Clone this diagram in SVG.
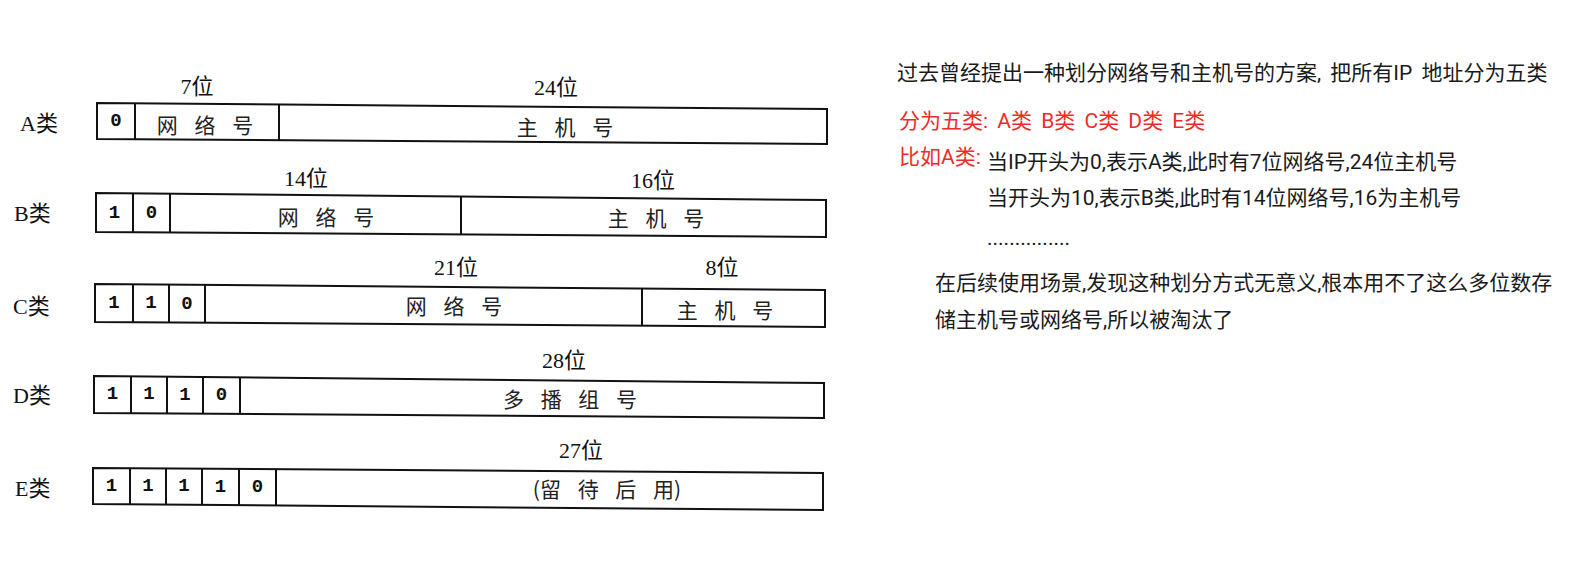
<svg xmlns="http://www.w3.org/2000/svg" width="1582" height="569" viewBox="0 0 1582 569">
<style>
.box{fill:#fff;stroke:#111;stroke-width:2;stroke-linejoin:miter}
.div{stroke:#111;stroke-width:2}
.lbl{font-family:"Liberation Serif","Noto Sans CJK SC",serif;font-size:22px;fill:#111;dominant-baseline:central}
.bits{font-family:"Liberation Serif","Noto Sans CJK SC",serif;font-size:22px;fill:#111;text-anchor:middle;dominant-baseline:central}
.fld{font-family:"Noto Sans CJK SC",sans-serif;font-size:21px;fill:#222;text-anchor:middle;dominant-baseline:central;word-spacing:12px}
.dig{font-family:"Liberation Mono",monospace;font-weight:bold;font-size:19px;fill:#111;text-anchor:middle;dominant-baseline:central}
.note{font-family:Roboto,"Noto Sans CJK SC",sans-serif;font-size:21px;fill:#1a1a1a;dominant-baseline:central;word-spacing:4px}
.red{fill:#ee2b2b}
</style>
<rect width="1582" height="569" fill="#fff"/>

<g id="classA">
<text class="lbl" x="20" y="123">A类</text>
<text class="bits" x="197" y="86">7位</text>
<text class="bits" x="556" y="87">24位</text>
<polygon class="box" points="97,103 827,109 827,144 97,139"/>
<line class="div" x1="135" y1="103.3" x2="135" y2="139.3"/>
<line class="div" x1="279" y1="104.5" x2="279" y2="140.2"/>
<text class="dig" x="116" y="121">0</text>
<text class="fld" x="205" y="124">网 络 号</text>
<text class="fld" x="565" y="126">主 机 号</text>
</g>

<g id="classB">
<text class="lbl" x="14" y="213">B类</text>
<text class="bits" x="306" y="178">14位</text>
<text class="bits" x="653" y="180">16位</text>
<polygon class="box" points="96,193 826,200 826,237 96,232"/>
<line class="div" x1="133" y1="193.4" x2="133" y2="232.3"/>
<line class="div" x1="170" y1="193.7" x2="170" y2="232.5"/>
<line class="div" x1="461" y1="196.5" x2="461" y2="234.5"/>
<text class="dig" x="114.5" y="213">1</text>
<text class="dig" x="151.5" y="213">0</text>
<text class="fld" x="326" y="216">网 络 号</text>
<text class="fld" x="656" y="217">主 机 号</text>
</g>

<g id="classC">
<text class="lbl" x="13" y="306">C类</text>
<text class="bits" x="456" y="267">21位</text>
<text class="bits" x="722" y="267">8位</text>
<polygon class="box" points="95,284 825,290 825,327 95,322"/>
<line class="div" x1="133" y1="284.3" x2="133" y2="322.3"/>
<line class="div" x1="169" y1="284.6" x2="169" y2="322.5"/>
<line class="div" x1="205" y1="284.9" x2="205" y2="322.8"/>
<line class="div" x1="642" y1="288.5" x2="642" y2="325.7"/>
<text class="dig" x="114" y="303">1</text>
<text class="dig" x="151" y="303">1</text>
<text class="dig" x="187" y="304">0</text>
<text class="fld" x="454" y="305">网 络 号</text>
<text class="fld" x="725" y="309">主 机 号</text>
</g>

<g id="classD">
<text class="lbl" x="13" y="395">D类</text>
<text class="bits" x="564" y="360">28位</text>
<polygon class="box" points="94,376 824,383 824,418 94,413"/>
<line class="div" x1="131" y1="376.4" x2="131" y2="413.3"/>
<line class="div" x1="167" y1="376.7" x2="167" y2="413.5"/>
<line class="div" x1="203" y1="377" x2="203" y2="413.7"/>
<line class="div" x1="240" y1="377.4" x2="240" y2="414"/>
<text class="dig" x="112.5" y="394">1</text>
<text class="dig" x="149" y="394">1</text>
<text class="dig" x="185" y="395">1</text>
<text class="dig" x="221.5" y="395">0</text>
<text class="fld" x="570" y="398">多 播 组 号</text>
</g>

<g id="classE">
<text class="lbl" x="15" y="488">E类</text>
<text class="bits" x="581" y="450">27位</text>
<polygon class="box" points="93,468 823,473 823,510 93,504"/>
<line class="div" x1="130" y1="468.3" x2="130" y2="504.3"/>
<line class="div" x1="166" y1="468.5" x2="166" y2="504.6"/>
<line class="div" x1="202" y1="468.7" x2="202" y2="504.9"/>
<line class="div" x1="239" y1="469" x2="239" y2="505.2"/>
<line class="div" x1="276" y1="469.3" x2="276" y2="505.5"/>
<text class="dig" x="111.5" y="486">1</text>
<text class="dig" x="148" y="486">1</text>
<text class="dig" x="184" y="486">1</text>
<text class="dig" x="220.5" y="487">1</text>
<text class="dig" x="257.5" y="487">0</text>
<text class="fld" x="607" y="488">(留 待 后 用)</text>
</g>

<g id="notes">
<text class="note" x="897" y="73">过去曾经提出一种划分网络号和主机号的方案, 把所有IP 地址分为五类</text>
<text class="note red" x="899" y="121">分为五类: A类 B类 C类 D类 E类</text>
<text class="note red" x="899" y="157">比如A类:</text>
<text class="note" x="987" y="162">当IP开头为0,表示A类,此时有7位网络号,24位主机号</text>
<text class="note" x="987" y="198">当开头为10,表示B类,此时有14位网络号,16为主机号</text>
<text class="note" x="987" y="238">...............</text>
<text class="note" x="935" y="283">在后续使用场景,发现这种划分方式无意义,根本用不了这么多位数存</text>
<text class="note" x="935" y="320">储主机号或网络号,所以被淘汰了</text>
</g>
</svg>
